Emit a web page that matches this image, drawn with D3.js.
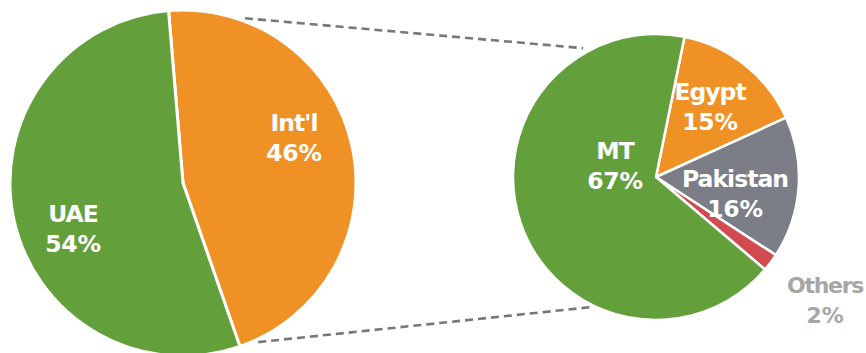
<!DOCTYPE html>
<html>
<head>
<meta charset="utf-8">
<script src="https://cdn.jsdelivr.net/npm/d3@7"></script>
<style>
  html, body { margin: 0; padding: 0; background: #fff; }
  svg { display: block; }
  text { font-family: "DejaVu Sans", Verdana, sans-serif; font-weight: bold; }
</style>
</head>
<body>
<svg id="chart" width="866" height="353"></svg>
<script>
// Split of revenue: domestic vs. international, then international by market
const mainCategories = ["Int'l", "UAE"];
const mainValues = [46, 54];
const mainColors = ["#EF9124", "#63A03C"];

const detailCategories = ["Egypt", "Pakistan", "Others", "MT"];
const detailValues = [15, 16, 2, 67];
const detailColors = ["#EF9124", "#7B7E86", "#D24A51", "#63A03C"];

const deg = Math.PI / 180;
const svg = d3.select("#chart");

// Layout for the two pies
const mainPie = { cx: 183, cy: 183, r: 173, start: -4.8, stroke: 3 };
const detailPie = { cx: 656, cy: 177, r: 143, start: 11.5, stroke: 2.5 };

// Label anchors (offset of first text line baseline from pie centre)
const labelAnchors = {
  "Int'l": [111, -52], "UAE": [-110, 39],
  "MT": [-41, -18], "Egypt": [54, -77], "Pakistan": [79, 10], "Others": [169, 116]
};
const labelColors = { "Others": "#A6A6A6" };
const labelSizes = { "Others": 22 };

// Connector lines between the pies: polar angle (deg) and radius on each side
const connectors = [
  { a1: 20.6, r1: 176, a2: 330.5, r2: 148 },
  { a1: 154.7, r1: 176, a2: 206.9, r2: 146 }
];

const conn = svg.append("g");
connectors.forEach(c => {
  const p1 = d3.pointRadial(c.a1 * deg, c.r1);
  const p2 = d3.pointRadial(c.a2 * deg, c.r2);
  conn.append("line")
    .attr("x1", mainPie.cx + p1[0]).attr("y1", mainPie.cy + p1[1])
    .attr("x2", detailPie.cx + p2[0]).attr("y2", detailPie.cy + p2[1])
    .attr("stroke", "#75767E")
    .attr("stroke-width", 2.6)
    .attr("stroke-dasharray", "8,5");
});

function drawPie(cfg, cats, vals, colors) {
  const data = cats.map((c, i) => ({ name: c, value: vals[i], color: colors[i] }));
  const pie = d3.pie().value(d => d.value).sort(null)
    .startAngle(cfg.start * deg).endAngle(cfg.start * deg + 2 * Math.PI);
  const arc = d3.arc().innerRadius(0).outerRadius(cfg.r);
  const g = svg.append("g").attr("transform", `translate(${cfg.cx},${cfg.cy})`);
  g.selectAll("path").data(pie(data)).join("path")
    .attr("d", arc)
    .attr("fill", d => d.data.color)
    .attr("stroke", "#fff")
    .attr("stroke-width", cfg.stroke)
    .attr("stroke-linejoin", "round");

  const labels = g.selectAll("text.lbl").data(pie(data)).join("text")
    .attr("class", "lbl")
    .attr("text-anchor", "middle")
    .attr("font-size", d => labelSizes[d.data.name] || 23.5)
    .attr("fill", d => labelColors[d.data.name] || "#fff")
    .attr("transform", d => {
      const a = labelAnchors[d.data.name];
      return `translate(${a[0]},${a[1]})`;
    });
  labels.append("tspan").attr("x", 0).attr("dy", 0)
    .attr("letter-spacing", d => d.data.name === "Others" ? -1.3 : -1)
    .text(d => d.data.name);
  labels.append("tspan").attr("x", 0).attr("dy", 29.5)
    .attr("letter-spacing", -0.2).text(d => d.data.value + "%");
}

drawPie(mainPie, mainCategories, mainValues, mainColors);
drawPie(detailPie, detailCategories, detailValues, detailColors);
</script>
</body>
</html>
